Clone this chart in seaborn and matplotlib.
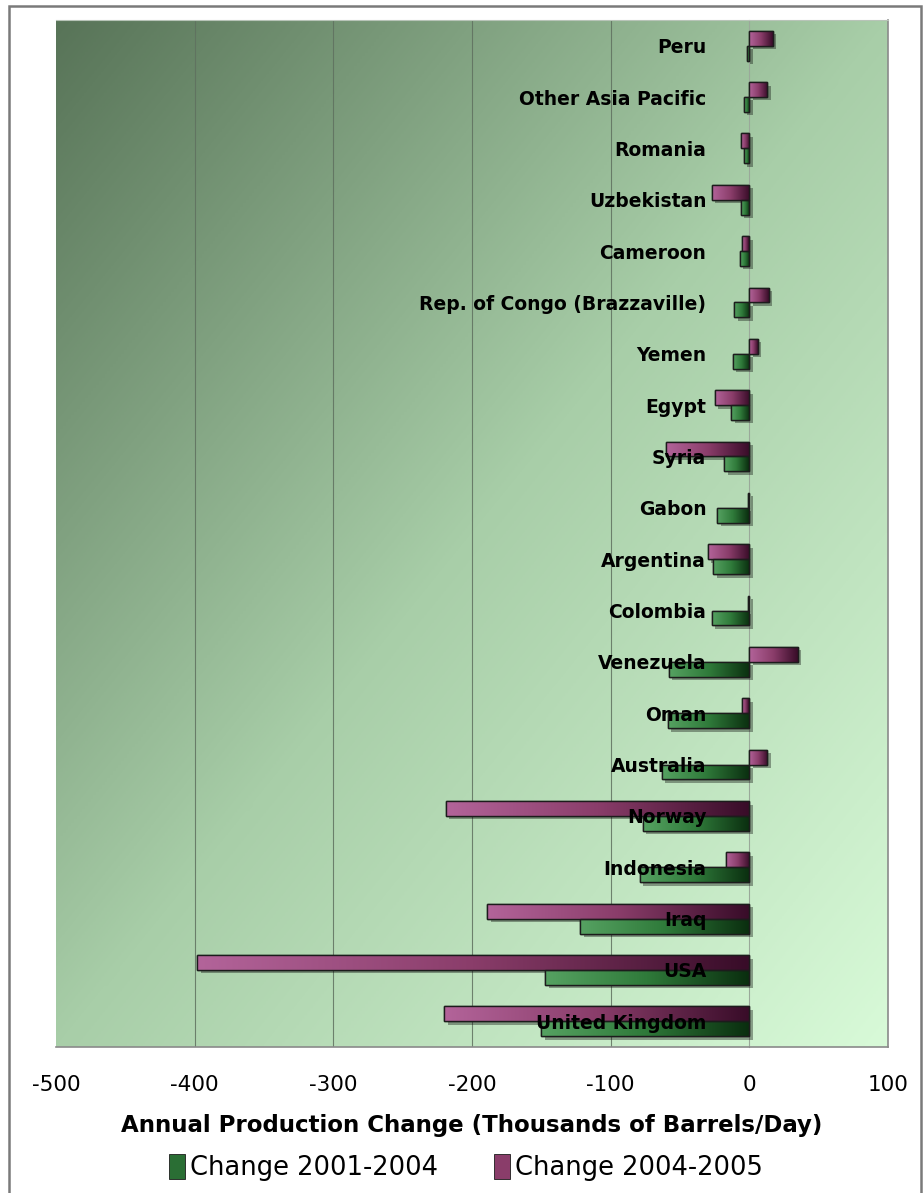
import numpy as np
import pandas as pd
import seaborn as sns
import matplotlib.pyplot as plt
import matplotlib.patheffects as pe
from matplotlib.colors import LinearSegmentedColormap
from matplotlib.patches import Rectangle, Patch

# --------- data (thousands of barrels/day) ---------
countries = ['Peru', 'Other Asia Pacific', 'Romania', 'Uzbekistan', 'Cameroon',
             'Rep. of Congo (Brazzaville)', 'Yemen', 'Egypt', 'Syria', 'Gabon',
             'Argentina', 'Colombia', 'Venezuela', 'Oman', 'Australia',
             'Norway', 'Indonesia', 'Iraq', 'USA', 'United Kingdom']
change_2001_2004 = [-2, -4, -4, -6, -7, -11, -12, -13, -18, -23,
                    -26, -27, -58, -59, -63, -77, -79, -122, -147, -150]
change_2004_2005 = [17, 13, -6, -27, -5, 14, 6, -25, -60, -1,
                    -30, -1, 35, -5, 13, -219, -17, -189, -398, -220]
xticks = [-500, -400, -300, -200, -100, 0, 100]

s1 = 'Change 2001-2004'
s2 = 'Change 2004-2005'
df = pd.concat([
    pd.DataFrame({'country': countries, 'value': change_2004_2005, 'period': s2}),
    pd.DataFrame({'country': countries, 'value': change_2001_2004, 'period': s1}),
])

sns.set_style('white')
plt.rcParams['font.family'] = ['DejaVu Sans']
plt.rcParams['text.color'] = 'black'
plt.rcParams['xtick.color'] = 'black'
plt.rcParams['ytick.color'] = 'black'
plt.rcParams['axes.labelcolor'] = 'black'

fig = plt.figure(figsize=(9.23, 11.93), dpi=100)
ax = fig.add_axes([56 / 923, 1 - 1047 / 1193, (888 - 56) / 923, (1047 - 20) / 1193])

# background gradient, dark top-left to pale bottom-right
bg_cmap = LinearSegmentedColormap.from_list(
    'bg', [(0, '#587458'), (0.5, '#a8cea8'), (1, '#d8fad8')])
gx, gy = np.meshgrid(np.linspace(0, 1, 300), np.linspace(0, 1, 300))
ax.imshow((gx + gy) / 2, cmap=bg_cmap, extent=[0, 1, 0, 1], transform=ax.transAxes,
          aspect='auto', zorder=0, origin='upper', interpolation='bilinear')

for t in xticks:
    if t not in (xticks[0], 0, xticks[-1]):
        ax.axvline(t, color='#5f705f', lw=0.8, alpha=0.85, zorder=0.5)

green, pink = '#2f7a3a', '#8a3d6a'
sns.barplot(data=df, x='value', y='country', hue='period', hue_order=[s2, s1],
            order=countries, palette={s1: green, s2: pink}, saturation=1, orient='h',
            width=0.58, edgecolor='#1c1c1c', linewidth=1.0, legend=False, ax=ax, zorder=1.1)

# gradient fill + shadow on every bar
grad_maps = {
    green: LinearSegmentedColormap.from_list('g', ['#56a262', '#2f7a3a', '#0a2e0f']),
    pink: LinearSegmentedColormap.from_list('p', ['#b3649a', '#8a3d6a', '#380c28']),
}
line = np.linspace(0, 1, 256).reshape(1, -1)
for bar in list(ax.patches):
    w = bar.get_width()
    if abs(w) < 1e-9:
        continue
    fc = '#%02x%02x%02x' % tuple(int(round(c * 255)) for c in bar.get_facecolor()[:3])
    cmap = grad_maps.get(fc)
    bar.set_path_effects([pe.SimplePatchShadow(offset=(2.5, -2.5), shadow_rgbFace='#000000',
                                               alpha=0.35), pe.Normal()])
    x0, y0 = bar.get_x(), bar.get_y()
    h = bar.get_height()
    left, right = min(x0, x0 + w), max(x0, x0 + w)
    if cmap is not None:
        im = ax.imshow(line, cmap=cmap, extent=[left, right, y0 + h, y0], aspect='auto',
                       zorder=1.2, interpolation='bilinear')
        im.set_clip_path(bar)
    ax.add_patch(Rectangle((left, y0), right - left, h, fill=False,
                           edgecolor='#1c1c1c', lw=1.0, zorder=1.3))

ax.set_xlim(-500, 100)
ax.set_ylim(len(countries) - 0.5, -0.5)
ax.set_aspect('auto')
ax.set_axisbelow(False)  # country labels sit on top of the bars

ax.set_xticks(xticks)
ax.set_xticklabels([str(t) for t in xticks], fontsize=15.5)
ax.tick_params(axis='x', length=6, color='#8a8a8a', pad=14)
ax.set_xlabel('Annual Production Change (Thousands of Barrels/Day)',
              fontsize=16.5, fontweight='bold', labelpad=14)
ax.set_ylabel('')

ax.spines['left'].set_position(('data', 0))
ax.spines['left'].set_color('#9aa89a')
ax.spines['left'].set_linewidth(0.8)
ax.spines['left'].set_zorder(1)
for side in ('bottom', 'right'):
    ax.spines[side].set_color('#8a8a8a')
    ax.spines[side].set_linewidth(1.2)
ax.spines['top'].set_color('#b8c4b8')
ax.spines['top'].set_linewidth(0.8)

ax.set_yticks(range(len(countries)))
ax.set_yticklabels(countries, fontsize=13.5, fontweight='bold')
ax.set_yticks(np.arange(0.5, len(countries) - 1, 1), minor=True)
ax.tick_params(axis='y', which='major', length=0, pad=31)
ax.tick_params(axis='y', which='minor', length=4, width=0.8, color='#8a948a', direction='out')

handles = [Patch(facecolor='#2a6e34', edgecolor='#1c1c1c', lw=0.6, label=s1),
           Patch(facecolor='#8a3d6a', edgecolor='#1c1c1c', lw=0.6, label=s2)]
fig.legend(handles=handles, loc='center', bbox_to_anchor=(0.505, 0.021), ncol=2,
           frameon=False, fontsize=18.5, handlelength=0.6, handleheight=1.1,
           handletextpad=0.2, columnspacing=2.2)

# outer frame of the chart
fig.patches.append(Rectangle((9 / 923, -0.02), (921 - 9) / 923, 1.02 - 6 / 1193,
                             transform=fig.transFigure, fill=False,
                             edgecolor='#7a7a7a', lw=1.8))

plt.savefig('out.png', dpi=100)
plt.close()
